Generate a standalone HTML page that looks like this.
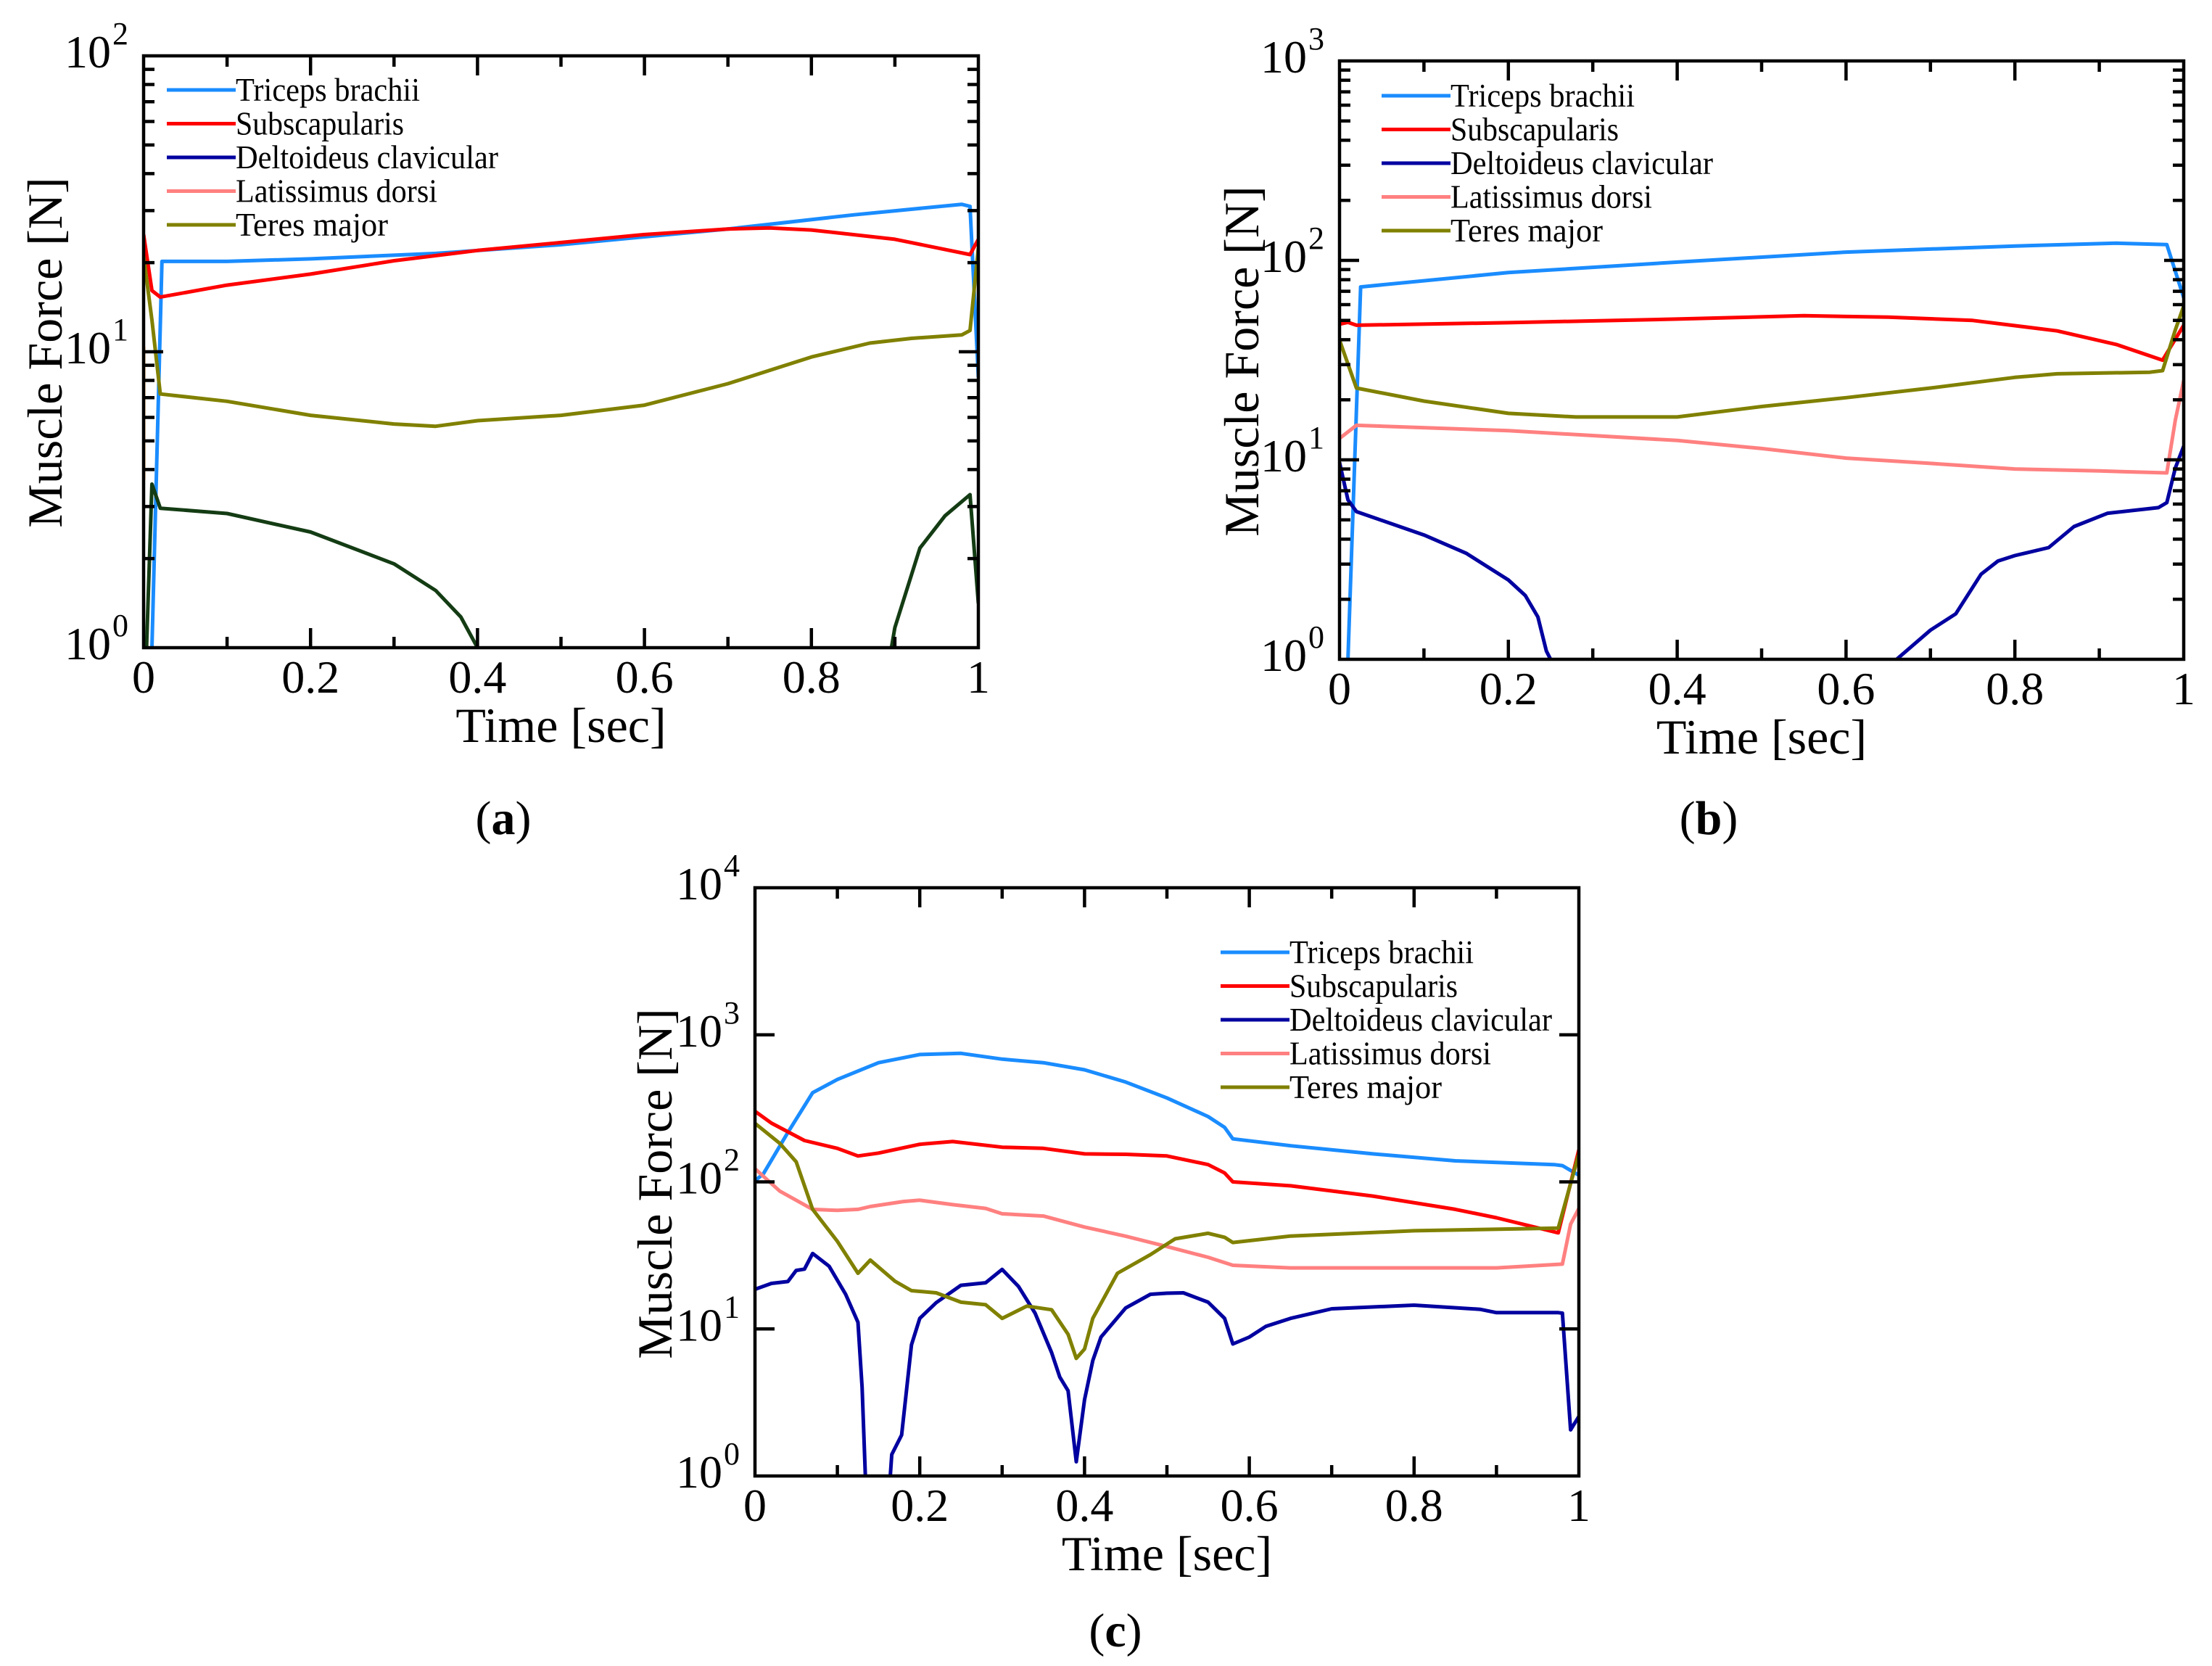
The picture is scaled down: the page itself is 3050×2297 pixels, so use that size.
<!DOCTYPE html>
<html><head><meta charset="utf-8">
<style>
html,body{margin:0;padding:0;background:#fff;}
svg{display:block;font-family:"Liberation Serif",serif;}
</style></head>
<body>
<svg id="fig" width="3050" height="2297" viewBox="0 0 3050 2297" xmlns="http://www.w3.org/2000/svg">
<rect width="3050" height="2297" fill="#fff"/>
</svg>
<script>
// ---------- data ----------
const seriesNames = ["Triceps brachii","Subscapularis","Deltoideus clavicular","Latissimus dorsi","Teres major"];
const seriesColors = ["#1a8cff","#ff0000","#0000a0","#ff8080","#808000"];
const xTicks = [0,0.2,0.4,0.6,0.8,1];
const xTickLabels = ["0","0.2","0.4","0.6","0.8","1"];

// panel a (values in N; null = gap)
const aTriX = [0.008,0.01,0.022,0.1,0.2,0.35,0.5,0.7,0.85,0.98,0.99,1.0];
const aTriY = [0.5,1,20.2,20.2,20.6,21.5,23,26,29,31.5,31,8.2];
const aSubX = [0,0.01,0.02,0.1,0.2,0.3,0.4,0.5,0.6,0.7,0.75,0.8,0.9,0.99,1.0];
const aSubY = [24.9,16.1,15.3,16.8,18.3,20.3,22.0,23.4,24.9,26.0,26.2,25.8,24.0,21.3,24];
const aDelX = [0,0.01,0.02,0.1,0.2,0.3,0.35,0.38,0.4,0.41,null,0.89,0.9,0.93,0.96,0.99,1.0];
const aDelY = [0.5,3.57,2.96,2.84,2.46,1.92,1.56,1.27,1.0,0.8,null,0.8,1.17,2.17,2.79,3.29,1.41];
const aLatX = [0,0];
const aLatY = [10.4,3.7];
const aTerX = [0,0.01,0.02,0.1,0.2,0.3,0.35,0.4,0.5,0.6,0.7,0.8,0.87,0.92,0.98,0.99,1.0];
const aTerY = [21,12.8,7.2,6.8,6.1,5.7,5.6,5.85,6.1,6.6,7.8,9.6,10.7,11.1,11.4,11.8,22.4];

// panel b
const bTriX = [0.008,0.01,0.025,0.2,0.4,0.6,0.8,0.92,0.98,1.0];
const bTriY = [0.5,1,73.6,86.9,98,110,118,122,120,65];
const bSubX = [0,0.01,0.02,0.2,0.4,0.55,0.65,0.75,0.85,0.92,0.975,1.0];
const bSubY = [47.9,48.9,47.3,48.7,50.8,52.8,51.9,50,44.3,37.9,31.6,47.3];
const bDelX = [0,0.01,0.02,0.1,0.15,0.2,0.22,0.235,0.245,0.25,0.26,null,0.65,0.66,0.7,0.73,0.76,0.78,0.8,0.84,0.87,0.91,0.97,0.98,0.99,1.0];
const bDelY = [9.7,6.3,5.5,4.2,3.4,2.5,2.09,1.63,1.1,1.0,0.8,null,0.85,1.0,1.4,1.69,2.67,3.11,3.31,3.63,4.63,5.4,5.76,6.1,9.1,11.7];
const bLatX = [0,0.02,0.2,0.4,0.5,0.6,0.7,0.8,0.9,0.98,0.99,1.0];
const bLatY = [12.8,14.9,14.0,12.5,11.4,10.2,9.6,9.0,8.8,8.6,15.8,25];
const bTerX = [0,0.02,0.1,0.2,0.28,0.4,0.5,0.6,0.7,0.8,0.85,0.96,0.975,0.99,1.0];
const bTerY = [39.8,22.9,19.7,17.1,16.4,16.4,18.5,20.5,22.9,25.9,27,27.5,28.0,44.8,59];

// panel c
const cTriX = [0,0.01,0.04,0.07,0.1,0.15,0.2,0.25,0.3,0.35,0.4,0.45,0.5,0.55,0.57,0.58,0.65,0.75,0.85,0.97,0.98,1.0];
const cTriY = [102,113,217,404,497,646,735,748,683,646,578,477,372,278,235,196,176,155,139,131,129,111];
const cSubX = [0,0.02,0.06,0.1,0.125,0.15,0.2,0.24,0.3,0.35,0.4,0.45,0.5,0.55,0.57,0.58,0.65,0.75,0.85,0.9,0.975,1.0];
const cSubY = [302,251,191,169,150,157,180,188,172,169,155,154,150,131,115,100,94,80,65,57,45,165];
const cDelX = [0,0.02,0.04,0.05,0.06,0.07,0.09,0.11,0.125,0.13,0.134,0.136,null,0.163,0.166,0.178,0.19,0.2,0.22,0.25,0.28,0.3,0.32,0.34,0.36,0.37,0.38,0.39,0.4,0.41,0.42,0.45,0.48,0.5,0.52,0.55,0.57,0.58,0.6,0.62,0.65,0.7,0.8,0.88,0.9,0.975,0.98,0.99,1.0];
const cDelY = [18.6,20.4,21,25,25.5,32.6,26.7,17.2,11.1,4,1.0,0.8,null,0.8,1.4,1.9,7.8,11.8,15.1,19.8,20.6,25.4,19.4,12.8,6.9,4.7,3.8,1.25,3.3,6.1,8.8,13.9,17.2,17.5,17.6,15.2,11.8,7.9,8.8,10.4,11.8,13.7,14.5,13.6,12.9,12.9,12.8,2.06,2.54];
const cLatX = [0,0.03,0.07,0.1,0.125,0.14,0.18,0.2,0.24,0.28,0.3,0.35,0.4,0.45,0.5,0.55,0.58,0.65,0.9,0.98,0.99,1.0];
const cLatY = [123,86.6,65,64,65,68,73.5,75,70,66,60.7,58.6,49.3,42.7,36.3,30.7,27.1,26,26,27.6,51.5,66];
const cTerX = [0,0.03,0.05,0.07,0.1,0.125,0.14,0.17,0.19,0.22,0.25,0.28,0.3,0.33,0.36,0.38,0.39,0.4,0.41,0.44,0.48,0.51,0.55,0.57,0.58,0.65,0.8,0.975,1.0];
const cTerY = [250,183,137,65,39.4,23.9,29.4,21.1,18.2,17.6,15.2,14.6,11.8,14.3,13.5,9.2,6.3,7.3,11.8,23.9,32,41,44.7,42,38.7,42.8,46.5,48.5,155];

// ---------- drawing ----------
const NS = "http://www.w3.org/2000/svg";
const svg = document.getElementById("fig");
function mk(tag, attrs, parent) {
  const e = document.createElementNS(NS, tag);
  for (const k in attrs) e.setAttribute(k, attrs[k]);
  (parent || svg).appendChild(e);
  return e;
}

const panels = [
  {id:"a", L:198, T:77, R:1349, B:893, dec:2, minor:true,
   series:[[aTriX,aTriY,0,"#1a8cff"],[aSubX,aSubY,1,"#ff0000"],[aTerX,aTerY,4,"#808000"],[aDelX,aDelY,2,"#143c14"],[aLatX,aLatY,3,"#ff9933"]],
   legX:230, legY:124, ytX:61, ytY:486, xtY:1023, lab:"a", labX:694, labY:1150},
  {id:"b", L:1847, T:84, R:3011, B:909, dec:3, minor:true,
   series:[[bTriX,bTriY,0],[bSubX,bSubY,1],[bDelX,bDelY,2],[bLatX,bLatY,3],[bTerX,bTerY,4]],
   legX:1905, legY:132, ytX:1711, ytY:498, xtY:1039, lab:"b", labX:2356, labY:1150},
  {id:"c", L:1041, T:1224, R:2177, B:2035, dec:4, minor:false,
   series:[[cTriX,cTriY,0],[cSubX,cSubY,1],[cDelX,cDelY,2],[cLatX,cLatY,3],[cTerX,cTerY,4]],
   legX:1683, legY:1313, ytX:902, ytY:1632, xtY:2165, lab:"c", labX:1538, labY:2270}
];

panels.forEach(p => {
  const g = mk("g", {});
  
  
  const xs = v => p.L + v * (p.R - p.L);
  const ys = v => p.B - Math.log10(v) / p.dec * (p.B - p.T);

  const cp = mk("clipPath", {id:"clip-" + p.id}, g);
  mk("rect", {x:p.L, y:p.T, width:p.R - p.L, height:p.B - p.T}, cp);

  p.series.forEach(s => {
    const X = s[0], Y = s[1], idx = s[2];
    const color = s[3] || seriesColors[idx];
    let d = "", pen = false;
    for (let i = 0; i < X.length; i++) {
      if (X[i] === null || Y[i] === null) { pen = false; continue; }
      d += (pen ? "L" : "M") + xs(X[i]).toFixed(1) + "," + ys(Y[i]).toFixed(1);
      pen = true;
    }
    const path = mk("path", {d:d, fill:"none", stroke:color, "stroke-width":5, "stroke-linejoin":"round", "clip-path":"url(#clip-" + p.id + ")"}, g);
    
    
  });

  let td = "";
  for (let i = 1; i < 10; i++) {
    const x = xs(i / 10), len = (i % 2 === 0) ? 27 : 15;
    td += `M${x},${p.B}v${-len}M${x},${p.T}v${len}`;
  }
  for (let dcd = 0; dcd < p.dec; dcd++) {
    if (dcd > 0) {
      const y = ys(Math.pow(10, dcd));
      td += `M${p.L},${y}h27M${p.R},${y}h-27`;
    }
    if (p.minor) for (let k = 2; k < 10; k++) {
      const y = ys(k * Math.pow(10, dcd));
      td += `M${p.L},${y}h15M${p.R},${y}h-15`;
    }
  }
  mk("path", {d:td, stroke:"#000", "stroke-width":4.5, fill:"none"}, g);
  const frame = mk("rect", {x:p.L, y:p.T, width:p.R - p.L, height:p.B - p.T, fill:"none", stroke:"#000", "stroke-width":4.5}, g);
  
  

  xTicks.forEach((v, i) => {
    const t = mk("text", {x:xs(v), y:p.B + 62, "font-size":64, "text-anchor":"middle"}, g);
    t.textContent = xTickLabels[i];
    
    
  });
  for (let dcd = 0; dcd <= p.dec; dcd++) {
    const y = ys(Math.pow(10, dcd));
    const t = mk("text", {x:p.L - 45, y:y + 16, "font-size":64, "text-anchor":"end"}, g);
    t.textContent = "10";
    
    
    const s = mk("text", {x:p.L - 43, y:y - 16, "font-size":44, "text-anchor":"start"}, g);
    s.textContent = String(dcd);
    
    
  }

  const xt = mk("text", {x:(p.L + p.R) / 2, y:p.xtY, "font-size":68, "text-anchor":"middle"}, g);
  xt.textContent = "Time [sec]";
  
  
  const yt = mk("text", {x:0, y:0, "font-size":68, "text-anchor":"middle", transform:`translate(${p.ytX + 24},${p.ytY}) rotate(-90)`}, g);
  yt.textContent = "Muscle Force [N]";
  
  

  const lg = mk("g", {}, g);
  
  
  const legW = [254, 232, 362, 278, 210];
  seriesNames.forEach((nm, i) => {
    const y = p.legY + i * 46.5;
    const ln = mk("line", {x1:p.legX, x2:p.legX + 95, y1:y, y2:y, stroke:seriesColors[i], "stroke-width":5}, lg);
    
    
    const t = mk("text", {x:p.legX + 95, y:y + 15, "font-size":45, textLength:legW[i], lengthAdjust:"spacingAndGlyphs"}, lg);
    t.textContent = nm;
    
    
  });

  const pl = mk("text", {x:p.labX, y:p.labY, "font-size":66, "text-anchor":"middle"}, g);
  
  
  const t1 = mk("tspan", {}, pl); t1.textContent = "(";
  const t2 = mk("tspan", {"font-weight":"bold"}, pl); t2.textContent = p.lab;
  const t3 = mk("tspan", {}, pl); t3.textContent = ")";
});
</script>
</body></html>
